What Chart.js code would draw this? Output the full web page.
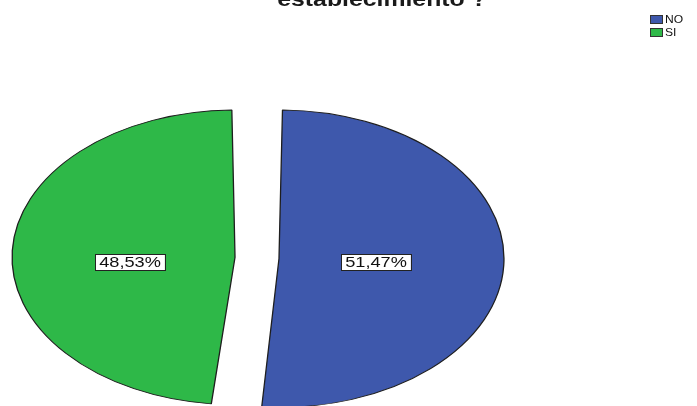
<!DOCTYPE html>
<html>
<head>
<meta charset="utf-8">
<script src="https://cdn.jsdelivr.net/npm/chart.js@4"></script>
<style>
  html, body { margin: 0; padding: 0; background: #fff; }
  #wrap { width: 697px; height: 406px; }
</style>
</head>
<body>
<div id="wrap"><canvas id="pieChart" width="697" height="406"></canvas></div>
<script>
const categories = ['NO', 'SI'];
const percents = [51.47, 48.53];
const sliceColors = ['#3e58ac', '#2eb848'];
const titleLine = 'establecimiento ?';

const squash = 0.661;      // vertical squeeze of the pie
const explode = 88;        // chart.js moves each slice by offset / 4
const labelRadius = 0.45;  // where the % boxes sit, as a share of the radius
const textStretch = 1.3;   // labels are drawn a bit wide

function fmtPct(v) {
    return v.toFixed(2).replace('.', ',') + '%';
}

function wideText(ctx, text, x, y, sx) {
    ctx.save();
    ctx.translate(x, y);
    ctx.scale(sx, 1);
    ctx.fillText(text, 0, 0);
    ctx.restore();
}

const ellipsePie = {
    id: 'ellipsePie',
    beforeDatasetsDraw(chart) {
        const arc = chart.getDatasetMeta(0).data[0];
        const ctx = chart.ctx;
        ctx.save();
        ctx.translate(arc.x, arc.y);
        ctx.scale(1, squash);
        ctx.translate(-arc.x, -arc.y);
    },
    afterDatasetsDraw(chart) {
        const ctx = chart.ctx;
        ctx.restore();

        // percentage boxes
        const meta = chart.getDatasetMeta(0);
        ctx.save();
        ctx.font = '14px "Liberation Sans", Arial, sans-serif';
        ctx.textAlign = 'center';
        ctx.textBaseline = 'middle';
        meta.data.forEach((arc, i) => {
            const p = arc.getProps(['x', 'y', 'startAngle', 'endAngle', 'outerRadius'], true);
            const mid = (p.startAngle + p.endAngle) / 2;
            const d = explode / 4 + labelRadius * (p.outerRadius + explode / 4);
            const lx = Math.round(p.x - 4 + Math.cos(mid) * d);
            const ly = Math.round(p.y + 4);
            const txt = fmtPct(percents[i]);
            const w = ctx.measureText(txt).width * textStretch + 8;
            const h = 16;
            ctx.fillStyle = '#ffffff';
            ctx.fillRect(lx - w / 2, ly - h / 2, w, h);
            ctx.strokeStyle = '#222';
            ctx.lineWidth = 1;
            ctx.strokeRect(Math.round(lx - w / 2) + 0.5, ly - h / 2 + 0.5, Math.round(w), h);
            ctx.fillStyle = '#111';
            wideText(ctx, txt, lx, ly + 1, textStretch);
        });
        ctx.restore();
    },
    afterDraw(chart) {
        const ctx = chart.ctx;
        ctx.save();

        // title, only its last line falls on the canvas
        ctx.fillStyle = '#1a1a1a';
        ctx.font = 'bold 20px "Liberation Sans", Arial, sans-serif';
        ctx.textAlign = 'center';
        ctx.textBaseline = 'alphabetic';
        wideText(ctx, titleLine, 382, 6, 1.24);

        // legend
        ctx.font = '11px "Liberation Sans", Arial, sans-serif';
        ctx.textAlign = 'left';
        ctx.textBaseline = 'middle';
        categories.forEach((c, i) => {
            const y = 15 + i * 13;
            ctx.fillStyle = sliceColors[i];
            ctx.fillRect(650, y, 13, 9);
            ctx.strokeStyle = '#333';
            ctx.lineWidth = 1;
            ctx.strokeRect(650.5, y + 0.5, 12, 8);
            ctx.fillStyle = '#111';
            wideText(ctx, c, 665, y + 5, 1.1);
        });
        ctx.restore();
    }
};

new Chart(document.getElementById('pieChart'), {
    type: 'pie',
    data: {
        labels: categories,
        datasets: [{
            data: percents,
            backgroundColor: sliceColors,
            borderColor: '#1e1e1e',
            borderWidth: 1.3,
            offset: explode,
            clip: false
        }]
    },
    options: {
        responsive: false,
        animation: false,
        events: [],
        radius: 203,
        layout: { padding: { left: 0, right: 183, top: 110, bottom: 0 } },
        plugins: {
            legend: { display: false },
            title: { display: false },
            tooltip: { enabled: false }
        }
    },
    plugins: [ellipsePie]
});
</script>
</body>
</html>
